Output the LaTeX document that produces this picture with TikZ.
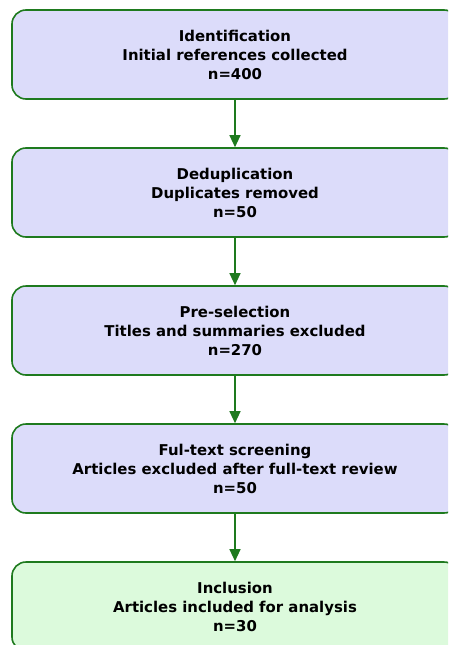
\documentclass[tikz,border=0pt]{standalone}
\usepackage{fontspec}
\setmainfont{DejaVu Sans}
\usetikzlibrary{arrows.meta}
\definecolor{stageline}{HTML}{1E7A1E}
\definecolor{stagefill}{HTML}{DCDCFA}
\definecolor{finalfill}{HTML}{DCFADC}
\tikzset{
  stagebox/.style={draw=stageline, line width=1.6pt, fill=stagefill, rounded corners=14pt,
    minimum width=446pt, minimum height=89pt, inner sep=0pt, align=center,
    font=\fontsize{14.9}{19}\selectfont\bfseries},
  finalbox/.style={stagebox, fill=finalfill},
  flow/.style={draw=stageline, line width=1.2pt, -{Triangle[width=11pt,length=12pt]}}
}
\begin{document}
\begin{tikzpicture}[x=1pt,y=-1pt]
\useasboundingbox (0,0) rectangle (448,645);
\clip (0,0) rectangle (448,645);
\node[stagebox] (ident) at (235,54.5) {Identification\\Initial references collected\\n=400};
\node[stagebox] (dedup) at (235,192.5) {Deduplication\\Duplicates removed\\n=50};
\node[stagebox] (presel) at (235,330.5) {Pre-selection\\Titles and summaries excluded\\n=270};
\node[stagebox] (screen) at (235,468.5) {Ful-text screening\\Articles excluded after full-text review\\n=50};
\node[finalbox] (incl) at (235,606.5) {Inclusion\\Articles included for analysis\\n=30};
\draw[flow] (ident) -- (dedup);
\draw[flow] (dedup) -- (presel);
\draw[flow] (presel) -- (screen);
\draw[flow] (screen) -- (incl);
\end{tikzpicture}
\end{document}
